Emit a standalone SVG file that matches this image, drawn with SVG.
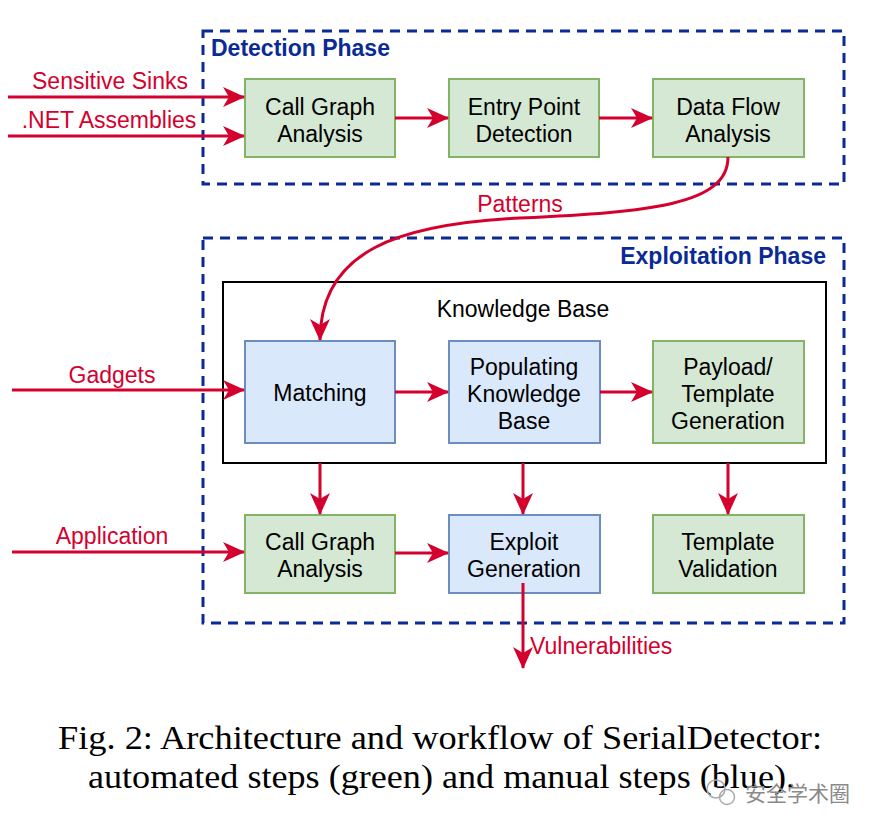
<svg xmlns="http://www.w3.org/2000/svg" width="882" height="830" viewBox="0 0 882 830">
<style>
.phase{fill:none;stroke:#0a2a96;stroke-width:3;stroke-dasharray:10 7}
.plabel{font-family:"Liberation Sans",Arial,sans-serif;font-weight:bold;font-size:23px;fill:#0a2a96}
.green{fill:#d5e8d4;stroke:#82b366;stroke-width:2}
.blue{fill:#dae8fc;stroke:#6c8ebf;stroke-width:2}
.kb{fill:none;stroke:#000;stroke-width:2}
.t{font-family:"Liberation Sans",Arial,sans-serif;font-size:23px;fill:#000;text-anchor:middle}
.rl{font-family:"Liberation Sans",Arial,sans-serif;font-size:23px;fill:#d4002e}
.edge{fill:none;stroke:#d4002e;stroke-width:3;marker-end:url(#ah)}
.cap{font-family:"Liberation Serif","Times New Roman",serif;font-size:33px;fill:#000}
</style>
<defs>
<marker id="ah" viewBox="0 0 22 20" markerWidth="22" markerHeight="20" refX="21" refY="10" orient="auto" markerUnits="userSpaceOnUse">
<path d="M0,0 L22,10 L0,20 L6,10 z" fill="#d4002e"/>
</marker>
</defs>
<rect width="882" height="830" fill="#fff"/>

<g id="detection-phase">
<rect class="phase" x="203" y="31" width="641" height="153"/>
<text class="plabel" x="211" y="56">Detection Phase</text>
</g>
<g id="exploitation-phase">
<rect class="phase" x="203" y="238" width="641" height="385"/>
<text class="plabel" x="826" y="264" text-anchor="end">Exploitation Phase</text>
</g>
<g id="knowledge-base">
<rect class="kb" x="223" y="282" width="603" height="181"/>
<text class="t" x="523" y="317">Knowledge Base</text>
</g>

<g id="cga1">
<rect class="green" x="245" y="79" width="150" height="78"/>
<text class="t" x="320" y="115">Call Graph</text>
<text class="t" x="320" y="142">Analysis</text>
</g>
<g id="epd">
<rect class="green" x="449" y="79" width="150" height="78"/>
<text class="t" x="524" y="115">Entry Point</text>
<text class="t" x="524" y="142">Detection</text>
</g>
<g id="dfa">
<rect class="green" x="653" y="79" width="151" height="78"/>
<text class="t" x="728" y="115">Data Flow</text>
<text class="t" x="728" y="142">Analysis</text>
</g>
<g id="matching">
<rect class="blue" x="245" y="341" width="150" height="102"/>
<text class="t" x="320" y="401">Matching</text>
</g>
<g id="populating">
<rect class="blue" x="449" y="341" width="151" height="102"/>
<text class="t" x="524" y="375">Populating</text>
<text class="t" x="524" y="402">Knowledge</text>
<text class="t" x="524" y="429">Base</text>
</g>
<g id="payload">
<rect class="green" x="653" y="341" width="151" height="102"/>
<text class="t" x="728" y="375">Payload/</text>
<text class="t" x="728" y="402">Template</text>
<text class="t" x="728" y="429">Generation</text>
</g>
<g id="cga2">
<rect class="green" x="245" y="515" width="150" height="78"/>
<text class="t" x="320" y="550">Call Graph</text>
<text class="t" x="320" y="577">Analysis</text>
</g>
<g id="exploit">
<rect class="blue" x="449" y="515" width="151" height="78"/>
<text class="t" x="524" y="550">Exploit</text>
<text class="t" x="524" y="577">Generation</text>
</g>
<g id="tv">
<rect class="green" x="653" y="515" width="151" height="78"/>
<text class="t" x="728" y="550">Template</text>
<text class="t" x="728" y="577">Validation</text>
</g>

<g id="connectors">
<path class="edge" d="M8,97 L244,97"/>
<path class="edge" d="M8,136 L244,136"/>
<path class="edge" d="M395,118 L448,118"/>
<path class="edge" d="M599,118 L652,118"/>
<path class="edge" d="M728,157 C728,205 650,212 520,218 C400,224 320,250 320,340"/>
<path class="edge" d="M12,390 L244,390"/>
<path class="edge" d="M395,392 L448,392"/>
<path class="edge" d="M600,392 L652,392"/>
<path class="edge" d="M320,463 L320,514"/>
<path class="edge" d="M523,463 L523,514"/>
<path class="edge" d="M728,463 L728,514"/>
<path class="edge" d="M12,552 L244,552"/>
<path class="edge" d="M395,553 L448,553"/>
<path class="edge" d="M523,583 L523,668"/>
<text class="rl" x="110" y="89" text-anchor="middle">Sensitive Sinks</text>
<text class="rl" x="109" y="128" text-anchor="middle">.NET Assemblies</text>
<text class="rl" x="520" y="212" text-anchor="middle">Patterns</text>
<text class="rl" x="112" y="383" text-anchor="middle">Gadgets</text>
<text class="rl" x="112" y="544" text-anchor="middle">Application</text>
<text class="rl" x="530" y="654">Vulnerabilities</text>
</g>

<g id="caption">
<text class="cap" x="58" y="749" textLength="764" lengthAdjust="spacingAndGlyphs">Fig. 2: Architecture and workflow of SerialDetector:</text>
<text class="cap" x="88" y="788" textLength="707" lengthAdjust="spacingAndGlyphs">automated steps (green) and manual steps (blue).</text>
</g>
<g id="watermark">
<circle cx="716" cy="789" r="9" fill="none" stroke="#aaaaaa" stroke-width="1.5"/>
<circle cx="727" cy="797" r="7.5" fill="none" stroke="#aaaaaa" stroke-width="1.5"/>
<text x="745" y="801" font-family="'Noto Sans CJK SC',sans-serif" font-size="21" fill="#8a8a8a">安全学术圈</text>
</g>
</svg>
